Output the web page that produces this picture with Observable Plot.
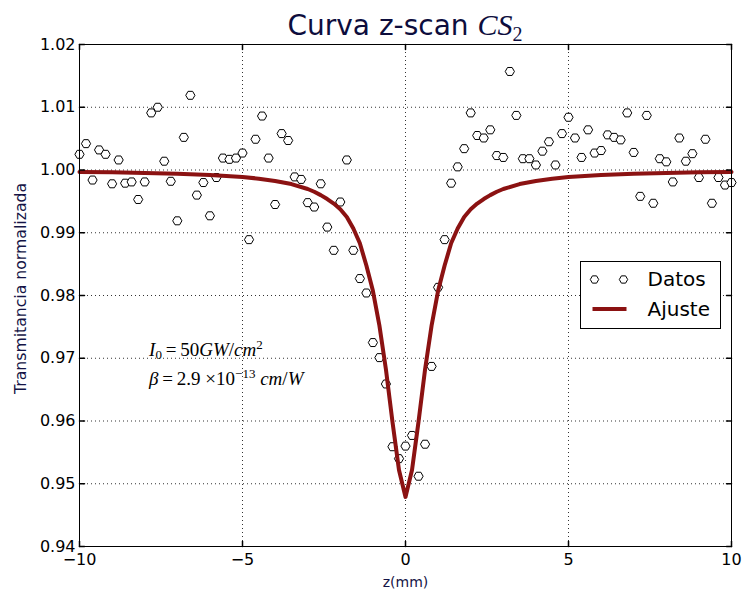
<!DOCTYPE html>
<html>
<head>
<meta charset="utf-8">
<script src="https://cdn.jsdelivr.net/npm/d3@7"></script>
<script src="https://cdn.jsdelivr.net/npm/@observablehq/plot@0.6"></script>
<style>
  body { margin: 0; background: #fff; }
  #chart svg { display: block; }
</style>
</head>
<body>
<div id="chart"></div>
<script>
// ---- Data ----
const z = [-10, -9.8, -9.6, -9.4, -9.2, -9, -8.8, -8.6, -8.4, -8.2, -8, -7.8, -7.6, -7.4, -7.2, -7, -6.8, -6.6, -6.4, -6.2, -6, -5.8, -5.6, -5.4, -5.2, -5, -4.8, -4.6, -4.4, -4.2, -4, -3.8, -3.6, -3.4, -3.2, -3, -2.8, -2.6, -2.4, -2.2, -2, -1.8, -1.6, -1.4, -1.2, -1, -0.8, -0.6, -0.4, -0.2, 0, 0.2, 0.4, 0.6, 0.8, 1, 1.2, 1.4, 1.6, 1.8, 2, 2.2, 2.4, 2.6, 2.8, 3, 3.2, 3.4, 3.6, 3.8, 4, 4.2, 4.4, 4.6, 4.8, 5, 5.2, 5.4, 5.6, 5.8, 6, 6.2, 6.4, 6.6, 6.8, 7, 7.2, 7.4, 7.6, 7.8, 8, 8.2, 8.4, 8.6, 8.8, 9, 9.2, 9.4, 9.6, 9.8, 10];
const transmitancia = [1.0025, 1.0042, 0.9984, 1.0032, 1.0025, 0.9978, 1.0016, 0.9979, 0.9981, 0.9953, 0.9981, 1.0091, 1.0100, 1.0014, 0.9982, 0.9919, 1.0052, 1.0119, 0.9960, 0.9980, 0.9927, 0.9988, 1.0019, 1.0017, 1.0019, 1.0027, 0.9889, 1.0049, 1.0086, 1.0019, 0.9945, 1.0058, 1.0047, 0.9989, 0.9985, 0.9948, 0.9941, 0.9978, 0.9909, 0.9872, 0.9949, 1.0016, 0.9872, 0.9827, 0.9804, 0.9725, 0.9701, 0.9659, 0.9559, 0.9540, 0.9560, 0.9577, 0.9512, 0.9563, 0.9687, 0.9813, 0.9889, 0.9979, 1.0005, 1.0034, 1.0091, 1.0055, 1.0051, 1.0064, 1.0023, 1.0020, 1.0157, 1.0087, 1.0018, 1.0018, 1.0008, 1.0030, 1.0045, 1.0008, 1.0058, 1.0084, 1.0051, 1.0020, 1.0064, 1.0027, 1.0031, 1.0056, 1.0052, 1.0048, 1.0091, 1.0028, 0.9958, 1.0087, 0.9947, 1.0018, 1.0013, 0.9981, 1.0051, 1.0014, 1.0026, 0.9988, 1.0049, 0.9947, 0.9988, 0.9976, 0.9980];

const zAjuste = [-10, -9, -8, -7, -6, -5, -4.5, -4, -3.5, -3, -2.8, -2.6, -2.4, -2.2, -2, -1.8, -1.6, -1.4, -1.2, -1, -0.8, -0.6, -0.4, -0.2, 0, 0.2, 0.4, 0.6, 0.8, 1, 1.2, 1.4, 1.6, 1.8, 2, 2.2, 2.4, 2.6, 2.8, 3, 3.5, 4, 4.5, 5, 6, 7, 8, 9, 10];
const tAjuste = [0.9997, 0.99963, 0.99954, 0.99941, 0.9992, 0.99888, 0.99862, 0.99826, 0.99776, 0.99697, 0.99653, 0.996, 0.99537, 0.99465, 0.99375, 0.99252, 0.99068, 0.98832, 0.98478, 0.98075, 0.9752, 0.9682, 0.9599, 0.9522, 0.9479, 0.9522, 0.9599, 0.9682, 0.9752, 0.98075, 0.98478, 0.98832, 0.99068, 0.99252, 0.99375, 0.99465, 0.99537, 0.996, 0.99653, 0.99697, 0.99776, 0.99826, 0.99862, 0.99888, 0.9992, 0.99941, 0.99954, 0.99963, 0.9997];

const xTicks = [-10, -5, 0, 5, 10];
const xTickLabels = ["\u221210", "\u22125", "0", "5", "10"];
const yTicks = [0.94, 0.95, 0.96, 0.97, 0.98, 0.99, 1.00, 1.01, 1.02];
const yTickLabels = ["0.94", "0.95", "0.96", "0.97", "0.98", "0.99", "1.00", "1.01", "1.02"];
const xGrid = [-5, 0, 5];
const yGrid = [0.95, 0.96, 0.97, 0.98, 0.99, 1.00, 1.01];

const titulo = "Curva z-scan ";
const etiquetaX = "z(mm)";
const etiquetaY = "Transmitancia normalizada";
const leyenda = ["Datos", "Ajuste"];

// ---- Tables ----
const datos = z.map((v, i) => ({z: v, t: transmitancia[i]}));
const ajuste = zAjuste.map((v, i) => ({z: v, t: tAjuste[i]}));

// flat-top hexagon marker (matplotlib "H")
const hexH = {
  draw(ctx, size) {
    const r = Math.sqrt(size / Math.PI);
    const h = r * Math.sqrt(3) / 2;
    ctx.moveTo(r, 0);
    ctx.lineTo(r / 2, h);
    ctx.lineTo(-r / 2, h);
    ctx.lineTo(-r, 0);
    ctx.lineTo(-r / 2, -h);
    ctx.lineTo(r / 2, -h);
    ctx.closePath();
  }
};
const tickShape = {draw(ctx, l) { ctx.moveTo(0, 0); ctx.lineTo(0, -l); }};

const W = 743, H = 591;
const mL = 79, mR = 12, mT = 44, mB = 45;
const rojo = "#8B1212";
const azul = "#141446";
const gridStyle = {stroke: "#000", strokeOpacity: 0.8, strokeWidth: 1, strokeDasharray: "1,3"};

const plot = Plot.plot({
  width: W,
  height: H,
  marginLeft: mL,
  marginRight: mR,
  marginTop: mT,
  marginBottom: mB,
  style: {fontFamily: "DejaVu Sans", background: "white", overflow: "visible"},
  x: {domain: [-10, 10], axis: null},
  y: {domain: [0.94, 1.02], axis: null},
  marks: [
    Plot.ruleX(xGrid, gridStyle),
    Plot.ruleY(yGrid, gridStyle),
    Plot.dot(datos, {x: "z", y: "t", symbol: hexH, r: 4.6, stroke: "#000", strokeWidth: 1, fill: "white"}),
    Plot.line(ajuste, {x: "z", y: "t", stroke: rojo, strokeWidth: 4}),
    Plot.frame({stroke: "#000", strokeWidth: 1}),
    Plot.vector(xTicks, {x: d => d, frameAnchor: "bottom", length: 5, rotate: 0, anchor: "start", shape: tickShape, stroke: "#000"}),
    Plot.vector(xTicks, {x: d => d, frameAnchor: "top", length: 5, rotate: 180, anchor: "start", shape: tickShape, stroke: "#000"}),
    Plot.vector(yTicks, {y: d => d, frameAnchor: "left", length: 5, rotate: 90, anchor: "start", shape: tickShape, stroke: "#000"}),
    Plot.vector(yTicks, {y: d => d, frameAnchor: "right", length: 5, rotate: -90, anchor: "start", shape: tickShape, stroke: "#000"}),
    Plot.text(xTicks, {x: d => d, text: (d, i) => xTickLabels[i], frameAnchor: "bottom", lineAnchor: "middle", dy: 13.5, fontSize: 16, fill: "#000"}),
    Plot.text(yTicks, {y: d => d, text: (d, i) => yTickLabels[i], frameAnchor: "left", lineAnchor: "middle", dx: -4, textAnchor: "end", fontSize: 16, fill: "#000"}),
    Plot.text([etiquetaX], {frameAnchor: "bottom", lineAnchor: "middle", textAnchor: "middle", dy: 36.5, fontSize: 14, fill: azul}),
    Plot.text([etiquetaY], {frameAnchor: "left", lineAnchor: "middle", textAnchor: "middle", dx: -59, dy: -7, rotate: -90, fontSize: 15.7, fill: azul})
  ]
});

document.getElementById("chart").appendChild(plot);

const xs = plot.scale("x"), ys = plot.scale("y");
const svg = d3.select(plot);
const mathFont = "Liberation Serif";

// Title
const t = svg.append("text")
  .attr("x", (mL + (W - mR)) / 2).attr("y", 35)
  .attr("text-anchor", "middle")
  .attr("font-family", "DejaVu Sans").attr("font-size", 28).attr("fill", "#0d0d3d");
t.append("tspan").text(titulo);
t.append("tspan").attr("font-family", mathFont).attr("font-style", "italic").attr("font-size", 30).text("CS");
t.append("tspan").attr("font-family", mathFont).attr("font-size", 20).attr("dy", 6).text("2");

// Annotation
const ax = xs.apply(-7.85);
const a1 = svg.append("text").attr("x", ax).attr("y", ys.apply(0.9703))
  .attr("text-anchor", "start")
  .attr("font-family", mathFont).attr("font-size", 19).attr("fill", "#000");
a1.append("tspan").attr("font-style", "italic").text("I");
a1.append("tspan").attr("font-size", 13).attr("dy", 3).text("0");
a1.append("tspan").attr("dy", -3).text("\u2009=\u200950");
a1.append("tspan").attr("font-style", "italic").text("GW");
a1.append("tspan").text("/");
a1.append("tspan").attr("font-style", "italic").text("cm");
a1.append("tspan").attr("font-size", 13).attr("dy", -7).text("2");

const a2 = svg.append("text").attr("x", ax).attr("y", ys.apply(0.9656))
  .attr("text-anchor", "start")
  .attr("font-family", mathFont).attr("font-size", 19).attr("fill", "#000");
a2.append("tspan").attr("font-style", "italic").text("\u03B2");
a2.append("tspan").text("\u2009=\u20092.9 \u00D710");
a2.append("tspan").attr("font-size", 13).attr("dy", -7).text("\u221213");
a2.append("tspan").attr("font-style", "italic").attr("dy", 7).text(" cm");
a2.append("tspan").text("/");
a2.append("tspan").attr("font-style", "italic").text("W");

// Legend
const lg = svg.append("g").attr("transform", "translate(580.5,261.5)");
lg.append("rect").attr("width", 140).attr("height", 67).attr("fill", "white").attr("stroke", "#000").attr("stroke-width", 1);
const hexPath = d3.symbol(hexH, Math.PI * 4.2 * 4.2)();
[14, 43].forEach(cx => lg.append("path").attr("d", hexPath).attr("transform", `translate(${cx},18)`).attr("fill", "white").attr("stroke", "#000"));
lg.append("line").attr("x1", 12).attr("x2", 46).attr("y1", 47.5).attr("y2", 47.5).attr("stroke", rojo).attr("stroke-width", 4);
lg.append("text").attr("x", 67).attr("y", 24.5).attr("text-anchor", "start").attr("font-size", 20).attr("font-family", "DejaVu Sans").attr("fill", "#000").text(leyenda[0]);
lg.append("text").attr("x", 67).attr("y", 54.5).attr("text-anchor", "start").attr("font-size", 20).attr("font-family", "DejaVu Sans").attr("fill", "#000").text(leyenda[1]);
</script>
</body>
</html>
